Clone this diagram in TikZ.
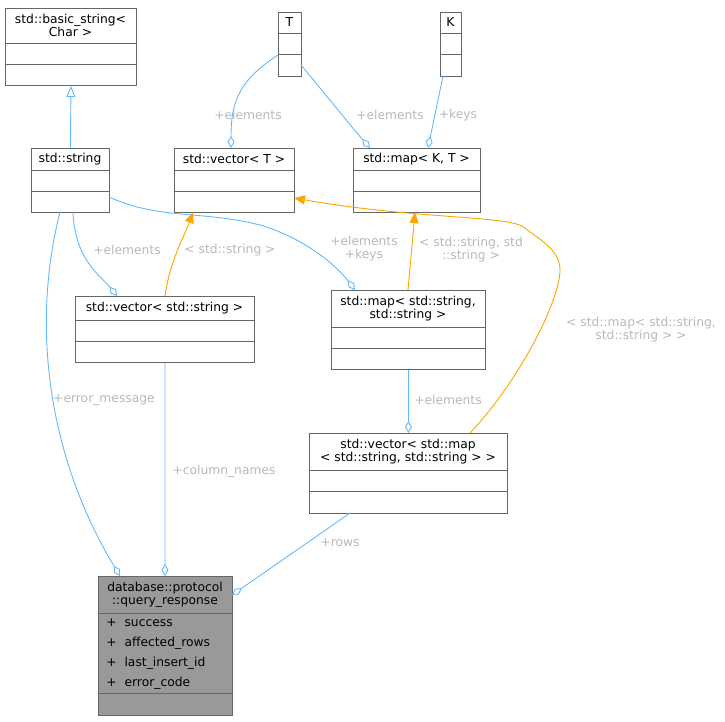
\documentclass[tikz,border=0pt]{standalone}
\usepackage{fontspec}
\setmainfont{DejaVu Sans}
\usetikzlibrary{arrows.meta}
\definecolor{eb}{HTML}{63B8FF}
\definecolor{eo}{HTML}{FFA500}
\definecolor{lb}{HTML}{B8B8B8}
\definecolor{bd}{HTML}{666666}
\newcommand\ubox[7]{%
 \node[draw=bd,fill=white,anchor=north west,minimum width=#4-#2,minimum height=#5-#3,inner sep=0] (#1) at (#2,#3) {};
 \node[txt,align=center] (#1-t) at ({(#2+#4)/2},{(#3+#6)/2}) {#7};
 \draw[bd] (#2,#6) -- (#4,#6);
 \draw[bd] (#2,{(#6+#5)/2}) -- (#4,{(#6+#5)/2});
}
\begin{document}
\begin{tikzpicture}[x=1pt,y=-1pt,line width=0.9pt,
 txt/.style={font=\fontsize{12.3}{13}\selectfont,inner sep=0},
 lab/.style={font=\fontsize{12.3}{13}\selectfont,text=lb,align=center,inner sep=1},
 agg/.style={eb,-{Diamond[open,length=12pt,width=7pt]}},
 inh/.style={eb,-{Triangle[open,length=11pt,width=9pt]}},
 tpl/.style={eo,-{Triangle[length=11pt,width=9pt]}}]
\useasboundingbox (0,0) rectangle (725,721);
\ubox{bs}{5}{8}{136}{85}{43}{std::basic\_string<\\Char >}
\ubox{T}{278}{12}{301}{76}{33}{T}
\ubox{K}{440}{12}{461}{76}{33}{K}
\ubox{str}{31}{148}{109}{212}{170}{std::string}
\ubox{vt}{174}{148}{294}{212}{170}{std::vector< T >}
\ubox{mkt}{353}{148}{480}{212}{170}{std::map< K, T >}
\ubox{vs}{75}{296}{254}{362}{320}{std::vector< std::string >}
\ubox{ms}{331}{290}{485}{369}{327}{std::map< std::string,\\std::string >}
\ubox{vm}{309}{433}{507}{513}{470}{std::vector< std::map\\< std::string, std::string > >}
% query response
\node[draw=bd,fill=black!40,anchor=north west,minimum width=134,minimum height=139,inner sep=0] (q) at (98,576) {};
\node[txt,align=center] (q-t) at (165,594.5) {database::protocol\\::query\_response};
\draw[bd] (98,613) -- (232,613);
\draw[bd] (98,693) -- (232,693);
\node[txt,anchor=west] (a1) at (106,623) {+\ \ success};
\node[txt,anchor=west] (a2) at (106,643) {+\ \ affected\_rows};
\node[txt,anchor=west] (a3) at (106,663) {+\ \ last\_insert\_id};
\node[txt,anchor=west] (a4) at (106,683) {+\ \ error\_code};
% edges
\draw[inh] (str.north) -- (bs.south);
\draw[agg] (278,55) .. controls (240,80) and (231,100) .. (231,148);
\draw[agg] (301,65) .. controls (330,100) and (350,125) .. (370,148);
\draw[agg] (443,76) -- (428,148);
\node[lab] (l1) at (248,115) {+elements};
\node[lab] (l2) at (390,115) {+elements};
\node[lab] (l3) at (458,115) {+keys};
\draw[agg] (73,212) .. controls (75,260) and (100,275) .. (117,296);
\node[lab] (l4) at (127,250) {+elements};
\draw[agg] (109,197) .. controls (160,220) and (200,210) .. (260,225) .. controls (310,240) and (340,270) .. (355,290);
\node[lab] (l5) at (364,249) {+elements\\+keys};
\draw[agg] (60,212) .. controls (30,330) and (50,460) .. (120,576);
\node[lab] (l6) at (104,400) {+error\_message};
\draw[agg] (vs.south) -- (165,576);
\node[lab] (l7) at (224,471) {+column\_names};
\draw[agg] (350,513) -- (232,595);
\node[lab] (l8) at (340,543) {+rows};
\draw[agg] (ms.south) -- (vm.north -| ms.south);
\node[lab] (l9) at (448,400) {+elements};
\draw[tpl] (165,296) .. controls (170,260) and (185,235) .. (193,212);
\node[lab] (l10) at (230,250) {< std::string >};
\draw[tpl] (408,290) -- (415,212);
\node[lab] (l11) at (471,250) {< std::string, std\\::string >};
\draw[tpl] (470,433) .. controls (520,380) and (560,300) .. (560,270) .. controls (560,250) and (540,240) .. (525,228) .. controls (510,215) and (420,220) .. (294,198);
\node[lab] (l12) at (641,330) {< std::map< std::string,\\std::string > >};
\end{tikzpicture}
\end{document}
